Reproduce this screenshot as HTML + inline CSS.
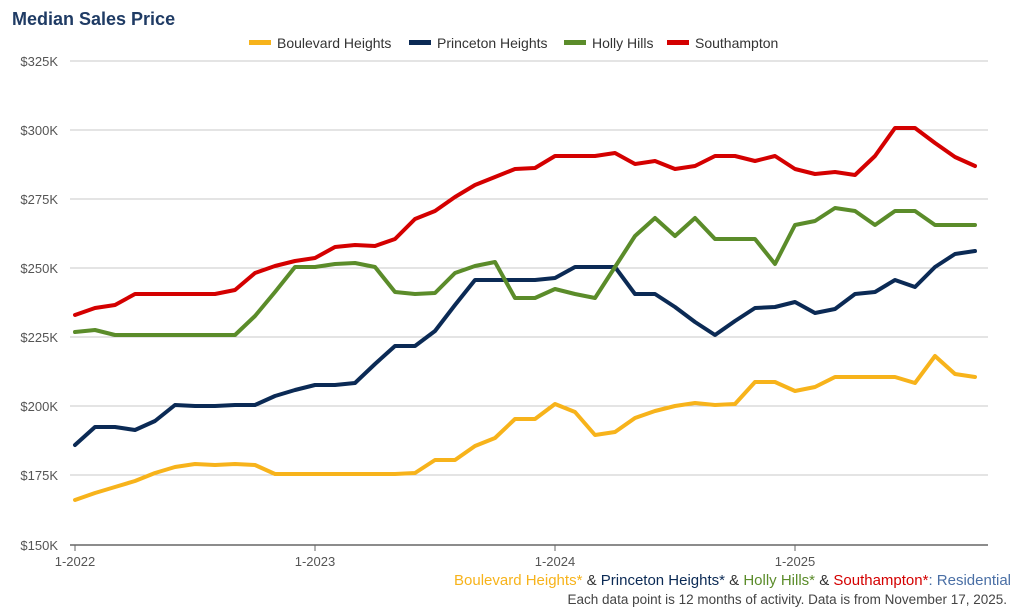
<!DOCTYPE html>
<html><head><meta charset="utf-8"><style>
body{margin:0;background:#fff;width:1017px;height:608px;overflow:hidden}
svg{display:block;font-family:"Liberation Sans",Arial,sans-serif}
</style></head><body>
<svg width="1017" height="608" xmlns="http://www.w3.org/2000/svg">
<text x="12" y="25" font-size="18" font-weight="bold" fill="#1f3b64">Median Sales Price</text>
<g font-size="14" fill="#333">
<rect x="249" y="40" width="22" height="5" fill="#f7b31b"/><text x="277" y="48">Boulevard Heights</text>
<rect x="409" y="40" width="22" height="5" fill="#0b2a55"/><text x="437" y="48">Princeton Heights</text>
<rect x="564" y="40" width="22" height="5" fill="#5b8c2a"/><text x="592" y="48">Holly Hills</text>
<rect x="667" y="40" width="22" height="5" fill="#d40000"/><text x="695" y="48">Southampton</text>
</g>
<g stroke="#c8c8c8" stroke-width="1">
<line x1="70" x2="988" y1="61" y2="61"/><line x1="70" x2="988" y1="130" y2="130"/><line x1="70" x2="988" y1="199" y2="199"/><line x1="70" x2="988" y1="268" y2="268"/><line x1="70" x2="988" y1="337" y2="337"/><line x1="70" x2="988" y1="406" y2="406"/><line x1="70" x2="988" y1="475" y2="475"/>
</g>
<line x1="70" x2="988" y1="545" y2="545" stroke="#666" stroke-width="1.5"/>
<g stroke="#666"><line x1="75" x2="75" y1="545" y2="551"/><line x1="315" x2="315" y1="545" y2="551"/><line x1="555" x2="555" y1="545" y2="551"/><line x1="795" x2="795" y1="545" y2="551"/></g>
<g font-size="13" fill="#555" text-anchor="end">
<text x="58" y="66">$325K</text><text x="58" y="135">$300K</text><text x="58" y="204">$275K</text><text x="58" y="273">$250K</text><text x="58" y="342">$225K</text><text x="58" y="411">$200K</text><text x="58" y="480">$175K</text><text x="58" y="550">$150K</text>
</g>
<g font-size="13" fill="#555" text-anchor="middle">
<text x="75" y="566">1-2022</text><text x="315" y="566">1-2023</text><text x="555" y="566">1-2024</text><text x="795" y="566">1-2025</text>
</g>
<g fill="none" stroke-width="4" stroke-linejoin="round" stroke-linecap="round">
<polyline stroke="#f7b31b" points="75,500 95,493 115,487 135,481 155,473 175,467 195,464 215,465 235,464 255,465 275,474 295,474 315,474 335,474 355,474 375,474 395,474 415,473 435,460 455,460 475,446 495,438 515,419 535,419 555,404 575,412 595,435 615,432 635,418 655,411 675,406 695,403 715,405 735,404 755,382 775,382 795,391 815,387 835,377 855,377 875,377 895,377 915,383 935,356 955,374 975,377"/>
<polyline stroke="#0b2a55" points="75,445 95,427 115,427 135,430 155,421 175,405 195,406 215,406 235,405 255,405 275,396 295,390 315,385 335,385 355,383 375,364 395,346 415,346 435,331 455,305 475,280 495,280 515,280 535,280 555,278 575,267 595,267 615,267 635,294 655,294 675,307 695,322 715,335 735,321 755,308 775,307 795,302 815,313 835,309 855,294 875,292 895,280 915,287 935,267 955,254 975,251"/>
<polyline stroke="#5b8c2a" points="75,332 95,330 115,335 135,335 155,335 175,335 195,335 215,335 235,335 255,316 275,292 295,267 315,267 335,264 355,263 375,267 395,292 415,294 435,293 455,273 475,266 495,262 515,298 535,298 555,289 575,294 595,298 615,267 635,236 655,218 675,236 695,218 715,239 735,239 755,239 775,264 795,225 815,221 835,208 855,211 875,225 895,211 915,211 935,225 955,225 975,225"/>
<polyline stroke="#d40000" points="75,315 95,308 115,305 135,294 155,294 175,294 195,294 215,294 235,290 255,273 275,266 295,261 315,258 335,247 355,245 375,246 395,239 415,219 435,211 455,197 475,185 495,177 515,169 535,168 555,156 575,156 595,156 615,153 635,164 655,161 675,169 695,166 715,156 735,156 755,161 775,156 795,169 815,174 835,172 855,175 875,156 895,128 915,128 935,143 955,157 975,166"/>
</g>
<text x="1011" y="585" font-size="15" text-anchor="end"><tspan fill="#f7b31b">Boulevard Heights*</tspan><tspan fill="#333"> &amp; </tspan><tspan fill="#0b2a55">Princeton Heights*</tspan><tspan fill="#333"> &amp; </tspan><tspan fill="#5b8c2a">Holly Hills*</tspan><tspan fill="#333"> &amp; </tspan><tspan fill="#d40000">Southampton*</tspan><tspan fill="#4a6fa5">: Residential</tspan></text>
<text x="1007" y="604" font-size="13.5" fill="#444" text-anchor="end">Each data point is 12 months of activity. Data is from November 17, 2025.</text>
</svg>
</body></html>
